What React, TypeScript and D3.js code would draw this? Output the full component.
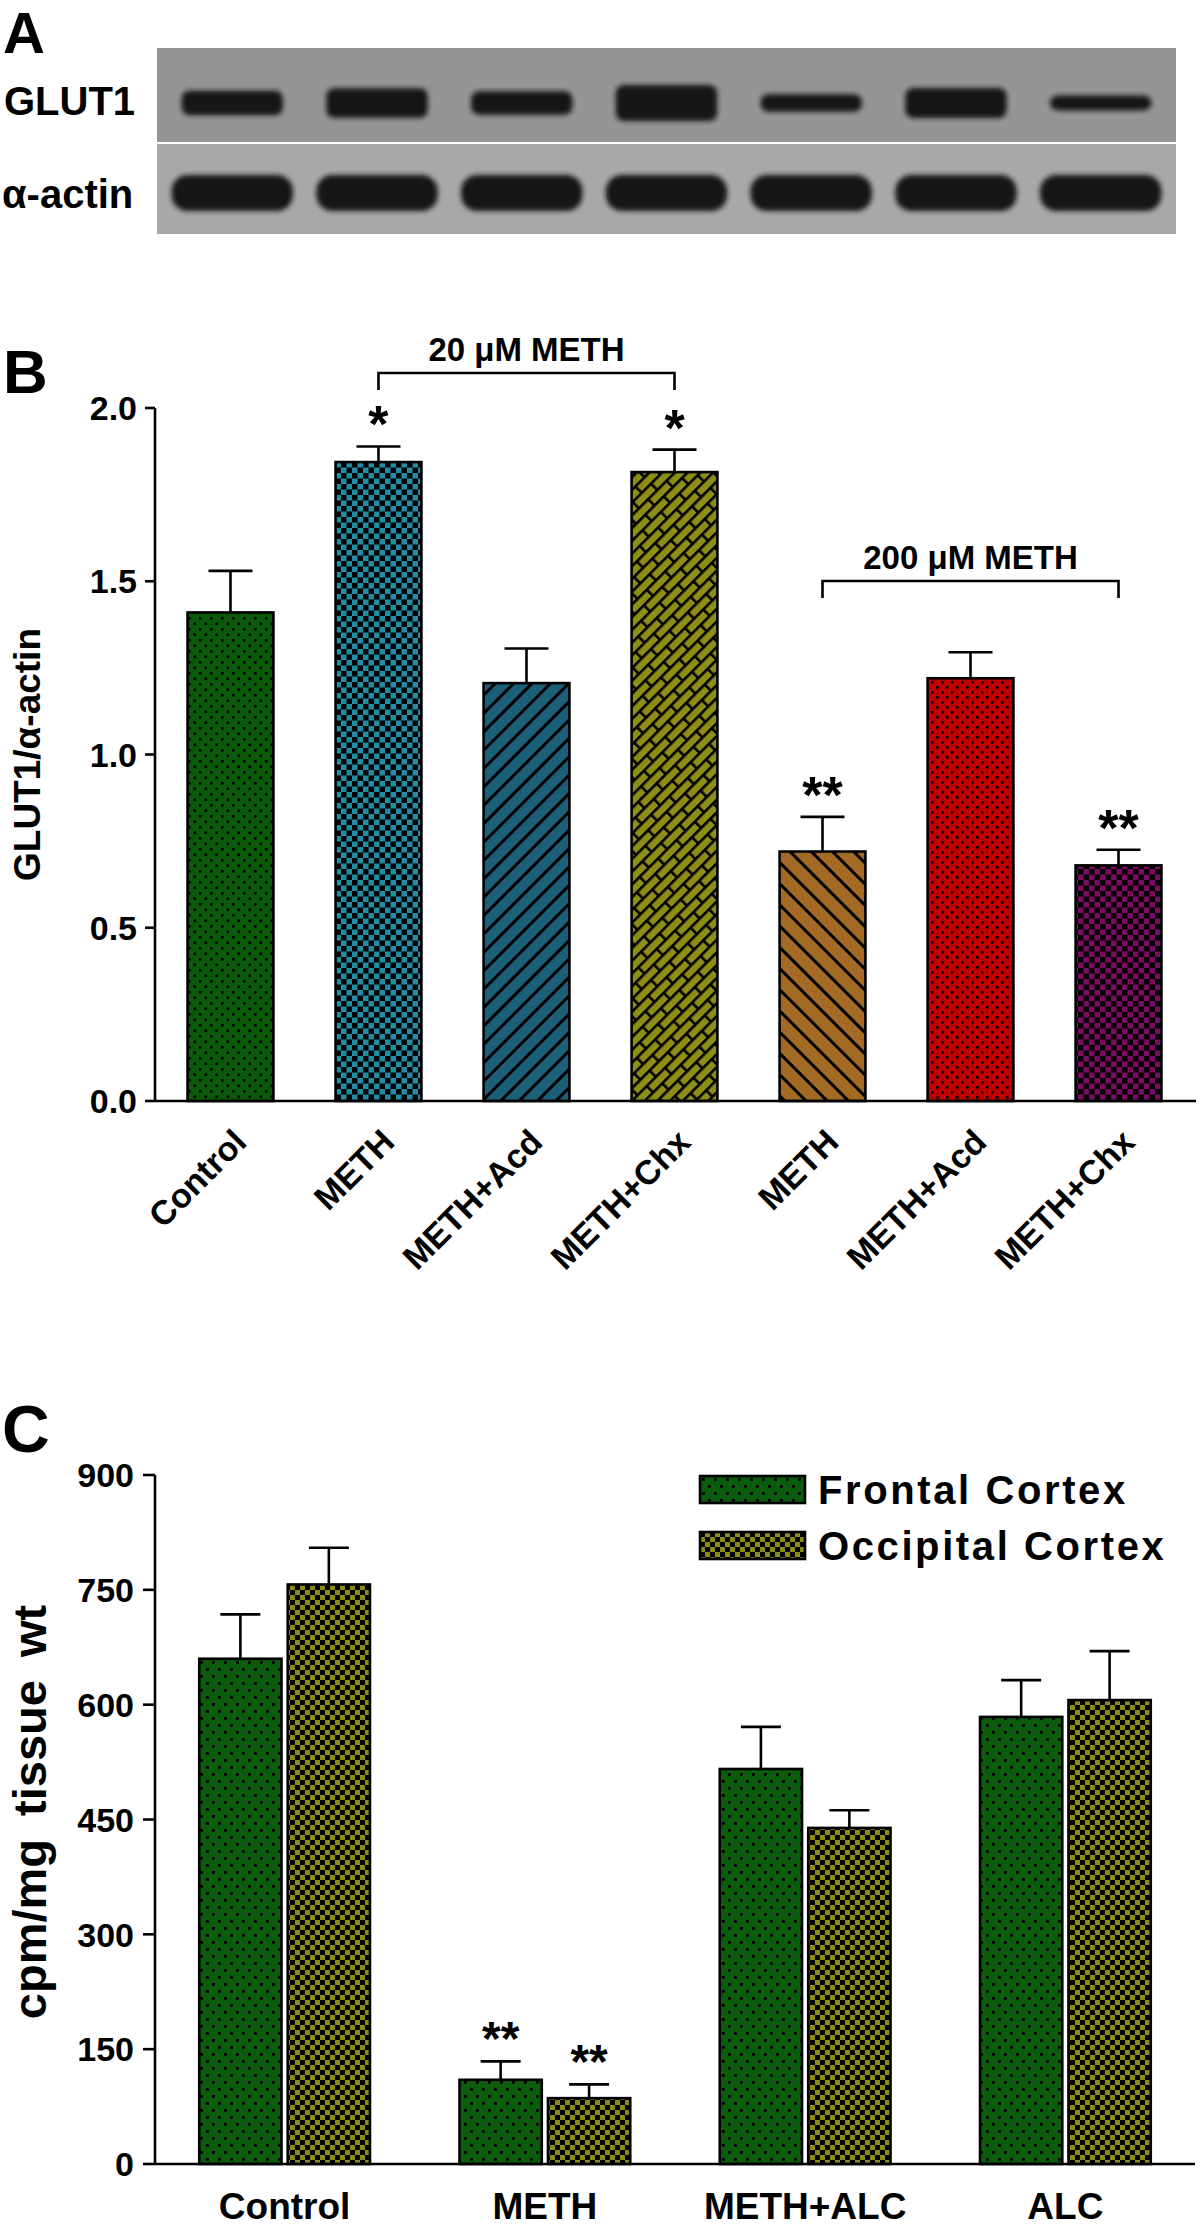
import React from 'react';
import * as d3 from 'd3';

// ---------- Panel A (western blot) ----------
const blotLanes = [1, 2, 3, 4, 5, 6, 7];
const glutIntensity = [0.68, 0.82, 0.65, 1.0, 0.49, 0.84, 0.41];
const actinIntensity = [1, 1, 1, 1, 1, 1, 1];

// ---------- Panel B ----------
const bCategories = ['Control', 'METH', 'METH+Acd', 'METH+Chx', 'METH', 'METH+Acd', 'METH+Chx'];
const bValues = [1.41, 1.844, 1.206, 1.815, 0.72, 1.22, 0.68];
const bErrors = [0.12, 0.045, 0.10, 0.065, 0.10, 0.075, 0.045];
const bStars = ['', '*', '', '*', '**', '', '**'];
const bTicks = [0, 0.5, 1.0, 1.5, 2.0];
const bPatterns = ['pDotGreenB', 'pCheckTeal', 'pDiagTeal', 'pBrickOlive', 'pDiagBrown', 'pDotRed', 'pCheckPurple'];
const bBrackets = [
  { from: 1, to: 3, label: '20 \u03bcM METH' },
  { from: 4, to: 6, label: '200 \u03bcM METH' },
];

// ---------- Panel C ----------
const cGroups = ['Control', 'METH', 'METH+ALC', 'ALC'];
const cSeries = ['Frontal Cortex', 'Occipital Cortex'];
const cFrontal = [660, 110, 516, 584];
const cFrontalErr = [58, 24, 55, 48];
const cOccipital = [757, 86, 439, 606];
const cOccipitalErr = [48, 18, 23, 64];
const cFrontalStars = ['', '**', '', ''];
const cOccipitalStars = ['', '**', '', ''];
const cTicks = [0, 150, 300, 450, 600, 750, 900];

const FONT = "'Liberation Sans', Arial, Helvetica, sans-serif";

export default function App() {
  // Panel A scales
  const lane = d3.scaleBand<number>().domain(blotLanes).range([157, 1176]).paddingInner(0.3).paddingOuter(0.17);
  const glutThick = d3.scaleLinear().domain([0, 1]).range([0, 36]);
  const actinThick = d3.scaleLinear().domain([0, 1]).range([0, 36]);

  // Panel B scales
  const bx = d3.scaleBand<number>().domain(d3.range(bCategories.length)).range([155, 1194]).paddingInner(0.42).paddingOuter(0.22);
  const by = d3.scaleLinear().domain([0, 2]).range([1101, 408]);

  // Panel C scales
  const cx = d3.scaleBand<string>().domain(cGroups).range([155, 1195]).paddingInner(0.344).paddingOuter(0.17);
  const cxi = d3.scaleBand<string>().domain(cSeries).range([0, cx.bandwidth()]).paddingInner(0.07);
  const cy = d3.scaleLinear().domain([0, 900]).range([2164, 1475]);
  const cSeriesData = [
    { key: cSeries[0], vals: cFrontal, errs: cFrontalErr, stars: cFrontalStars, pat: 'pDotGreenC' },
    { key: cSeries[1], vals: cOccipital, errs: cOccipitalErr, stars: cOccipitalStars, pat: 'pCheckOlive' },
  ];

  const sw = 2.6;

  return (
    <svg width={1200} height={2226} style={{ position: 'absolute', left: 0, top: 0, background: '#fff' }}
      fontFamily={FONT} fontWeight="bold">
      <defs>
        <filter id="blur" x="-20%" y="-50%" width="140%" height="200%">
          <feGaussianBlur stdDeviation="2.8" />
        </filter>
        <pattern id="pDotGreenB" width="11" height="11" patternUnits="userSpaceOnUse">
          <rect width="11" height="11" fill="#0a5a0a" />
          <rect x="1" y="1" width="2.6" height="2.6" fill="#000" />
          <rect x="6.5" y="6.5" width="2.6" height="2.6" fill="#000" />
        </pattern>
        <pattern id="pDotGreenC" width="12" height="14" patternUnits="userSpaceOnUse">
          <rect width="12" height="14" fill="#0b5c0b" />
          <rect x="2" y="2" width="2.8" height="2.8" fill="#000" />
          <rect x="8" y="9" width="2.8" height="2.8" fill="#000" />
        </pattern>
        <pattern id="pDotRed" width="10" height="10" patternUnits="userSpaceOnUse">
          <rect width="10" height="10" fill="#c00000" />
          <rect x="1" y="1" width="2.6" height="2.6" fill="#000" />
          <rect x="6" y="6" width="2.6" height="2.6" fill="#000" />
        </pattern>
        <pattern id="pCheckTeal" width="11" height="11" patternUnits="userSpaceOnUse">
          <rect width="11" height="11" fill="#1f8ea6" />
          <rect x="0" y="0" width="5.5" height="5.5" fill="#000" />
          <rect x="5.5" y="5.5" width="5.5" height="5.5" fill="#000" />
        </pattern>
        <pattern id="pCheckPurple" width="11" height="11" patternUnits="userSpaceOnUse">
          <rect width="11" height="11" fill="#7d0b63" />
          <rect x="0" y="0" width="5.5" height="5.5" fill="#000" />
          <rect x="5.5" y="5.5" width="5.5" height="5.5" fill="#000" />
        </pattern>
        <pattern id="pCheckOlive" width="10" height="10" patternUnits="userSpaceOnUse">
          <rect width="10" height="10" fill="#8c8c12" />
          <rect x="0" y="0" width="5" height="5" fill="#000" />
          <rect x="5" y="5" width="5" height="5" fill="#000" />
        </pattern>
        <pattern id="pDiagTeal" width="13" height="13" patternUnits="userSpaceOnUse" patternTransform="rotate(45)">
          <rect width="13" height="13" fill="#1b5f78" />
          <rect x="0" y="0" width="3" height="13" fill="#000" />
        </pattern>
        <pattern id="pDiagBrown" width="15" height="15" patternUnits="userSpaceOnUse" patternTransform="rotate(-45)">
          <rect width="15" height="15" fill="#a26a24" />
          <rect x="0" y="0" width="3" height="15" fill="#000" />
        </pattern>
        <pattern id="pBrickOlive" width="26" height="18" patternUnits="userSpaceOnUse" patternTransform="rotate(-45)">
          <rect width="26" height="18" fill="#8e8e14" />
          <rect x="0" y="0" width="26" height="2.6" fill="#000" />
          <rect x="0" y="9" width="26" height="2.6" fill="#000" />
          <rect x="0" y="0" width="2.6" height="9" fill="#000" />
          <rect x="13" y="9" width="2.6" height="9" fill="#000" />
        </pattern>
      </defs>

      {/* ================= Panel A ================= */}
      <text x={3} y={53} fontSize={58}>A</text>
      <rect x={157} y={48} width={1019} height={94} fill="#959595" />
      <rect x={157} y={144} width={1019} height={90} fill="#a8a8a8" />
      <g filter="url(#blur)">
        {blotLanes.map((l, i) => {
          const t = glutThick(glutIntensity[i]);
          return <rect key={'g' + l} x={lane(l)!} y={103 - t / 2} width={lane.bandwidth()} height={t}
            rx={8} fill="#141414" />;
        })}
        {blotLanes.map((l, i) => {
          const t = actinThick(actinIntensity[i]);
          return <rect key={'a' + l} x={lane(l)! - 10} y={193 - t / 2} width={lane.bandwidth() + 20} height={t}
            rx={16} fill="#121212" />;
        })}
      </g>
      <text x={4} y={115} fontSize={40}>GLUT1</text>
      <text x={2} y={208} fontSize={40}>{'\u03b1-actin'}</text>

      {/* ================= Panel B ================= */}
      <text x={3} y={393} fontSize={62}>B</text>
      {bValues.map((v, i) => (
        <rect key={'bb' + i} x={bx(i)!} y={by(v)} width={bx.bandwidth()} height={by(0) - by(v)}
          fill={`url(#${bPatterns[i]})`} stroke="#000" strokeWidth={sw} />
      ))}
      {bValues.map((v, i) => {
        const c = bx(i)! + bx.bandwidth() / 2;
        return (
          <g key={'be' + i} stroke="#000" strokeWidth={sw}>
            <line x1={c} x2={c} y1={by(v)} y2={by(v + bErrors[i])} />
            <line x1={c - 22} x2={c + 22} y1={by(v + bErrors[i])} y2={by(v + bErrors[i])} />
          </g>
        );
      })}
      {bValues.map((v, i) => bStars[i] ? (
        <text key={'bs' + i} x={bx(i)! + bx.bandwidth() / 2} y={by(v + bErrors[i]) - 4}
          textAnchor="middle" fontSize={52}>{bStars[i]}</text>
      ) : null)}
      {bBrackets.map((br, k) => {
        const x1 = bx(br.from)! + bx.bandwidth() / 2;
        const x2 = bx(br.to)! + bx.bandwidth() / 2;
        const yl = k === 0 ? 373 : 581;
        return (
          <g key={'br' + k}>
            <path d={`M${x1},${yl + 17}V${yl}H${x2}V${yl + 17}`} fill="none" stroke="#000" strokeWidth={sw} />
            <text x={(x1 + x2) / 2} y={yl - 12} textAnchor="middle" fontSize={33}>{br.label}</text>
          </g>
        );
      })}
      <g stroke="#000" strokeWidth={sw} fill="none">
        <line x1={155} x2={155} y1={by(2)} y2={by(0)} />
        <line x1={155} x2={1196} y1={by(0)} y2={by(0)} />
        {bTicks.map(t => <line key={'bt' + t} x1={145} x2={155} y1={by(t)} y2={by(t)} />)}
      </g>
      {bTicks.map(t => (
        <text key={'btl' + t} x={137} y={by(t)} dy="0.36em" textAnchor="end" fontSize={34}>{d3.format('.1f')(t)}</text>
      ))}
      {bCategories.map((c, i) => {
        const xc = bx(i)! + bx.bandwidth() / 2;
        return (
          <text key={'bxl' + i} transform={`translate(${xc + 18},${1144}) rotate(-45)`} textAnchor="end" fontSize={34}>{c}</text>
        );
      })}
      <text transform={`translate(40,${by(1)}) rotate(-90)`} textAnchor="middle" fontSize={37}>{'GLUT1/\u03b1-actin'}</text>

      {/* ================= Panel C ================= */}
      <text x={2} y={1452} fontSize={66}>C</text>
      {cSeriesData.map(s => (
        <g key={s.key}>
          {cGroups.map((g, i) => (
            <rect key={g} x={cx(g)! + cxi(s.key)!} y={cy(s.vals[i])} width={cxi.bandwidth()}
              height={cy(0) - cy(s.vals[i])} fill={`url(#${s.pat})`} stroke="#000" strokeWidth={sw} />
          ))}
        </g>
      ))}
      {cSeriesData.map(s => (
        <g key={'e' + s.key} stroke="#000" strokeWidth={sw}>
          {cGroups.map((g, i) => {
            const c = cx(g)! + cxi(s.key)! + cxi.bandwidth() / 2;
            const yt = cy(s.vals[i] + s.errs[i]);
            return (
              <g key={g}>
                <line x1={c} x2={c} y1={cy(s.vals[i])} y2={yt} />
                <line x1={c - 20} x2={c + 20} y1={yt} y2={yt} />
              </g>
            );
          })}
        </g>
      ))}
      {cSeriesData.map(s => cGroups.map((g, i) => s.stars[i] ? (
        <text key={'cs' + s.key + g} x={cx(g)! + cxi(s.key)! + cxi.bandwidth() / 2}
          y={cy(s.vals[i] + s.errs[i]) - 6} textAnchor="middle" fontSize={48}>{s.stars[i]}</text>
      ) : null))}
      <g stroke="#000" strokeWidth={sw} fill="none">
        <line x1={155} x2={155} y1={cy(900)} y2={cy(0)} />
        <line x1={155} x2={1195} y1={cy(0)} y2={cy(0)} />
        {cTicks.map(t => <line key={'ct' + t} x1={143} x2={155} y1={cy(t)} y2={cy(t)} />)}
      </g>
      {cTicks.map(t => (
        <text key={'ctl' + t} x={134} y={cy(t)} dy="0.36em" textAnchor="end" fontSize={34}>{t}</text>
      ))}
      {cGroups.map(g => (
        <text key={'cxl' + g} x={cx(g)! + cx.bandwidth() / 2} y={2219} textAnchor="middle" fontSize={37}>{g}</text>
      ))}
      <text transform={`translate(46,1812) rotate(-90)`} textAnchor="middle" fontSize={47} wordSpacing={10}>cpm/mg tissue wt</text>
      {cSeriesData.map((s, k) => (
        <g key={'lg' + s.key} transform={`translate(700,${1476 + k * 56})`}>
          <rect x={0} y={0} width={105} height={27} fill={`url(#${s.pat})`} stroke="#000" strokeWidth={sw} />
          <text x={118} y={28} fontSize={40} letterSpacing={2.6}>{s.key}</text>
        </g>
      ))}
    </svg>
  );
}
